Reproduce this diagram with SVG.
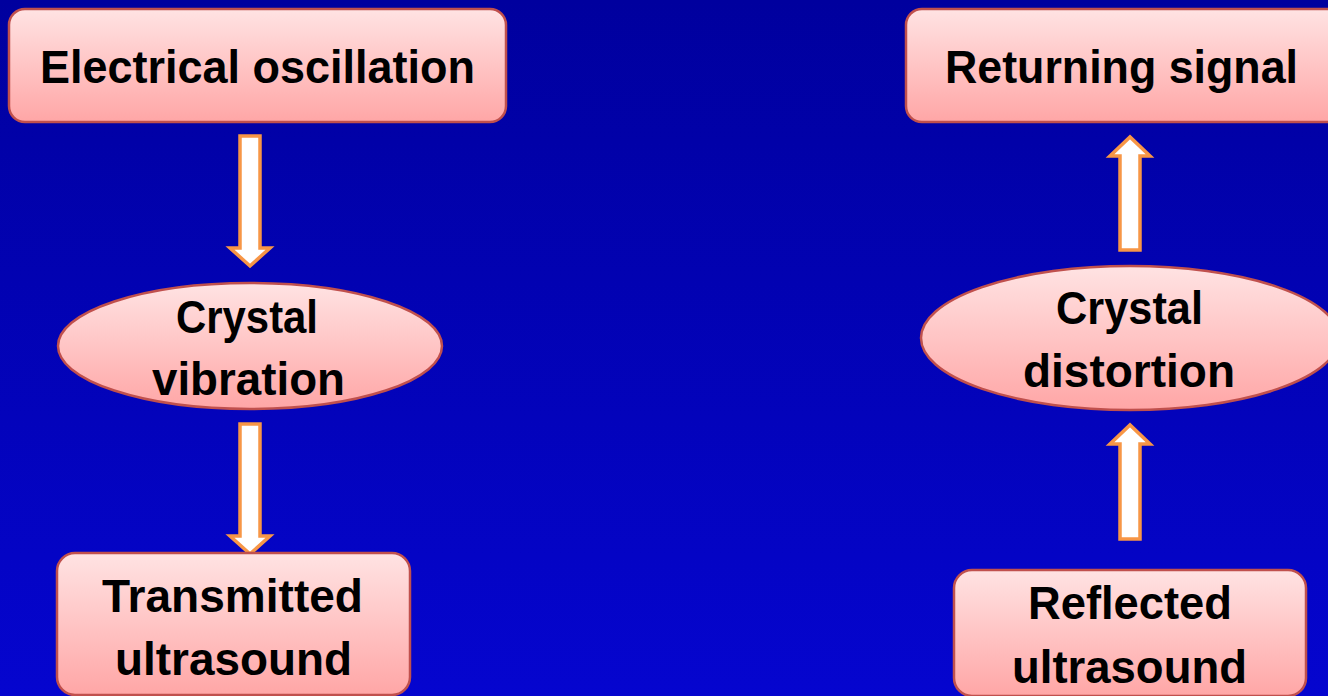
<svg xmlns="http://www.w3.org/2000/svg" width="1328" height="696" viewBox="0 0 1328 696">
<defs>
<linearGradient id="bg" x1="0" y1="0" x2="0" y2="1">
<stop offset="0" stop-color="#00009E"/>
<stop offset="1" stop-color="#0505CF"/>
</linearGradient>
<linearGradient id="pink" x1="0" y1="0" x2="0" y2="1">
<stop offset="0" stop-color="#FFE3E3"/>
<stop offset="1" stop-color="#FFA6A6"/>
</linearGradient>
<style>
.node{fill:url(#pink);stroke:#C0504D;stroke-width:2.5}
.lbl{font-family:"Liberation Sans",Arial,sans-serif;font-weight:bold;font-size:46px;fill:#000;text-anchor:middle}
.arr{fill:#FFFFFF;stroke:#F79646;stroke-width:3.5;stroke-linejoin:miter}
</style>
</defs>
<rect x="0" y="0" width="1328" height="696" fill="url(#bg)"/>
<g id="connectors">
<path class="arr" d="M240,136 H260 V248 H270 L250,266 L230,248 H240 Z"/>
<path class="arr" d="M240,424 H260 V536 H270 L250,554 L230,536 H240 Z"/>
<path class="arr" d="M1120,250 H1140 V156 H1150 L1130,137 L1110,156 H1120 Z"/>
<path class="arr" d="M1120,539 H1140 V444 H1150 L1130,425 L1110,444 H1120 Z"/>
</g>
<g id="electrical-oscillation">
<rect class="node" x="9" y="9" width="497" height="113" rx="16"/>
<text class="lbl" x="257.5" y="83" textLength="435" lengthAdjust="spacingAndGlyphs">Electrical oscillation</text>
</g>
<g id="crystal-vibration">
<ellipse class="node" cx="250" cy="346" rx="192" ry="63"/>
<text class="lbl" x="247" y="333" textLength="142" lengthAdjust="spacingAndGlyphs">Crystal</text>
<text class="lbl" x="248.5" y="395" textLength="193" lengthAdjust="spacingAndGlyphs">vibration</text>
</g>
<g id="transmitted-ultrasound">
<rect class="node" x="57" y="553" width="353" height="142" rx="18"/>
<text class="lbl" x="232.5" y="612" textLength="261" lengthAdjust="spacingAndGlyphs">Transmitted</text>
<text class="lbl" x="233.5" y="675" textLength="237" lengthAdjust="spacingAndGlyphs">ultrasound</text>
</g>
<g id="returning-signal">
<rect class="node" x="906" y="9" width="440" height="113" rx="16"/>
<text class="lbl" x="1121.5" y="83" textLength="353" lengthAdjust="spacingAndGlyphs">Returning signal</text>
</g>
<g id="crystal-distortion">
<ellipse class="node" cx="1130" cy="338" rx="209" ry="72"/>
<text class="lbl" x="1129.5" y="324" textLength="147" lengthAdjust="spacingAndGlyphs">Crystal</text>
<text class="lbl" x="1129" y="387" textLength="212" lengthAdjust="spacingAndGlyphs">distortion</text>
</g>
<g id="reflected-ultrasound">
<rect class="node" x="954" y="570" width="352" height="126" rx="18"/>
<text class="lbl" x="1130" y="619" textLength="204" lengthAdjust="spacingAndGlyphs">Reflected</text>
<text class="lbl" x="1129.5" y="683" textLength="235" lengthAdjust="spacingAndGlyphs">ultrasound</text>
</g>
</svg>
